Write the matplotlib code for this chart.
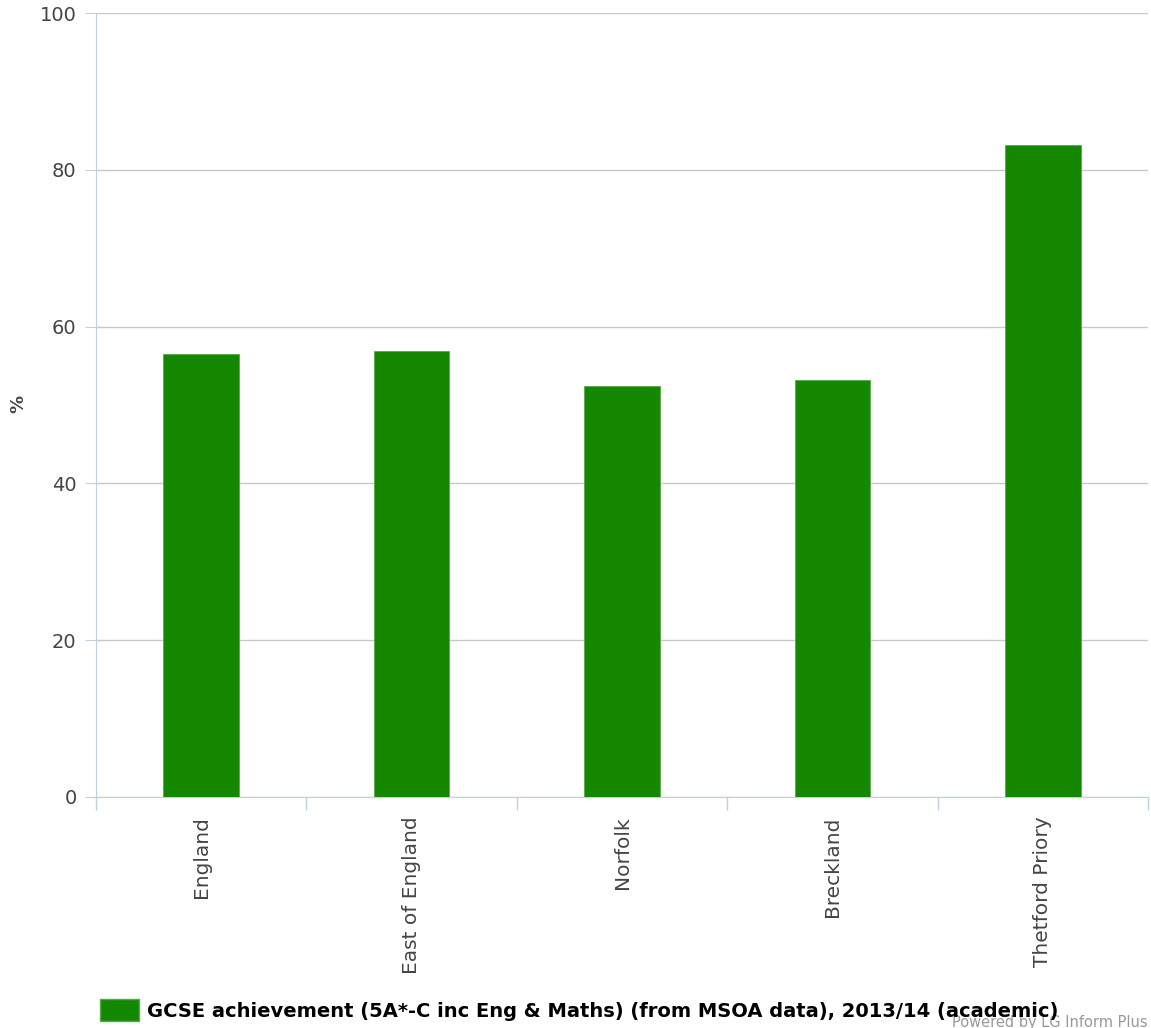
import matplotlib
matplotlib.use("Agg")
import matplotlib.pyplot as plt
import numpy as np
from matplotlib.patches import Patch

plt.rcParams["font.family"] = ["DejaVu Sans"]

areas = ["England", "East of England", "Norfolk", "Breckland", "Thetford Priory"]
values = [56.5, 56.9, 52.4, 53.2, 83.2]
yticks = [0, 20, 40, 60, 80, 100]
series_name = "GCSE achievement (5A*-C inc Eng & Maths) (from MSOA data), 2013/14 (academic)"

green = "#138800"
axis_col = "#c0d0e0"
text_col = "#444444"

fig = plt.figure(figsize=(11.51, 10.28), dpi=100)
ax = fig.add_axes([96/1151, 1 - 797/1028, (1148-96)/1151, (797-13)/1028])

x = np.arange(len(areas))
ax.bar(x, values, width=0.36, color=green, edgecolor="#5aa84a", linewidth=0.6, zorder=3)

ax.set_xlim(-0.5, len(areas) - 0.5)
ax.set_ylim(0, 100)
ax.set_yticks(yticks)
ax.set_yticklabels([str(v) for v in yticks], fontsize=14, color=text_col)
ax.yaxis.grid(True, color="#c8c8c8", linewidth=1, zorder=0)
ax.tick_params(axis="y", length=8, color=axis_col, pad=6)

# category labels at bar centres, tick marks at category boundaries
ax.set_xticks(x)
ax.set_xticklabels(areas, rotation=90, fontsize=14.5, color=text_col, va="top")
ax.tick_params(axis="x", length=0, pad=14)
ax.set_xticks(np.arange(-0.5, len(areas)), minor=True)
ax.tick_params(axis="x", which="minor", length=9, color=axis_col, width=1)

for s in ["top", "right"]:
    ax.spines[s].set_visible(False)
ax.spines["left"].set_color(axis_col)
ax.spines["bottom"].set_color(axis_col)

fig.text(18/1151, 1 - 404/1028, "%", rotation=90, fontsize=13, fontweight="bold",
         color=text_col, ha="center", va="center")

fig.legend(handles=[Patch(facecolor=green, edgecolor="#5aa84a")], labels=[series_name],
           loc="center left", bbox_to_anchor=(100/1151, 1 - 1010/1028), frameon=False,
           prop={"size": 14, "weight": "bold"}, handlelength=2.0, handleheight=1.3,
           handletextpad=0.4, borderaxespad=0, borderpad=0)

fig.text(1148/1151, 1 - 1022/1028, "Powered by LG Inform Plus", fontsize=10.5,
         color="#999999", ha="right", va="center")

fig.savefig("out.png", dpi=100)
